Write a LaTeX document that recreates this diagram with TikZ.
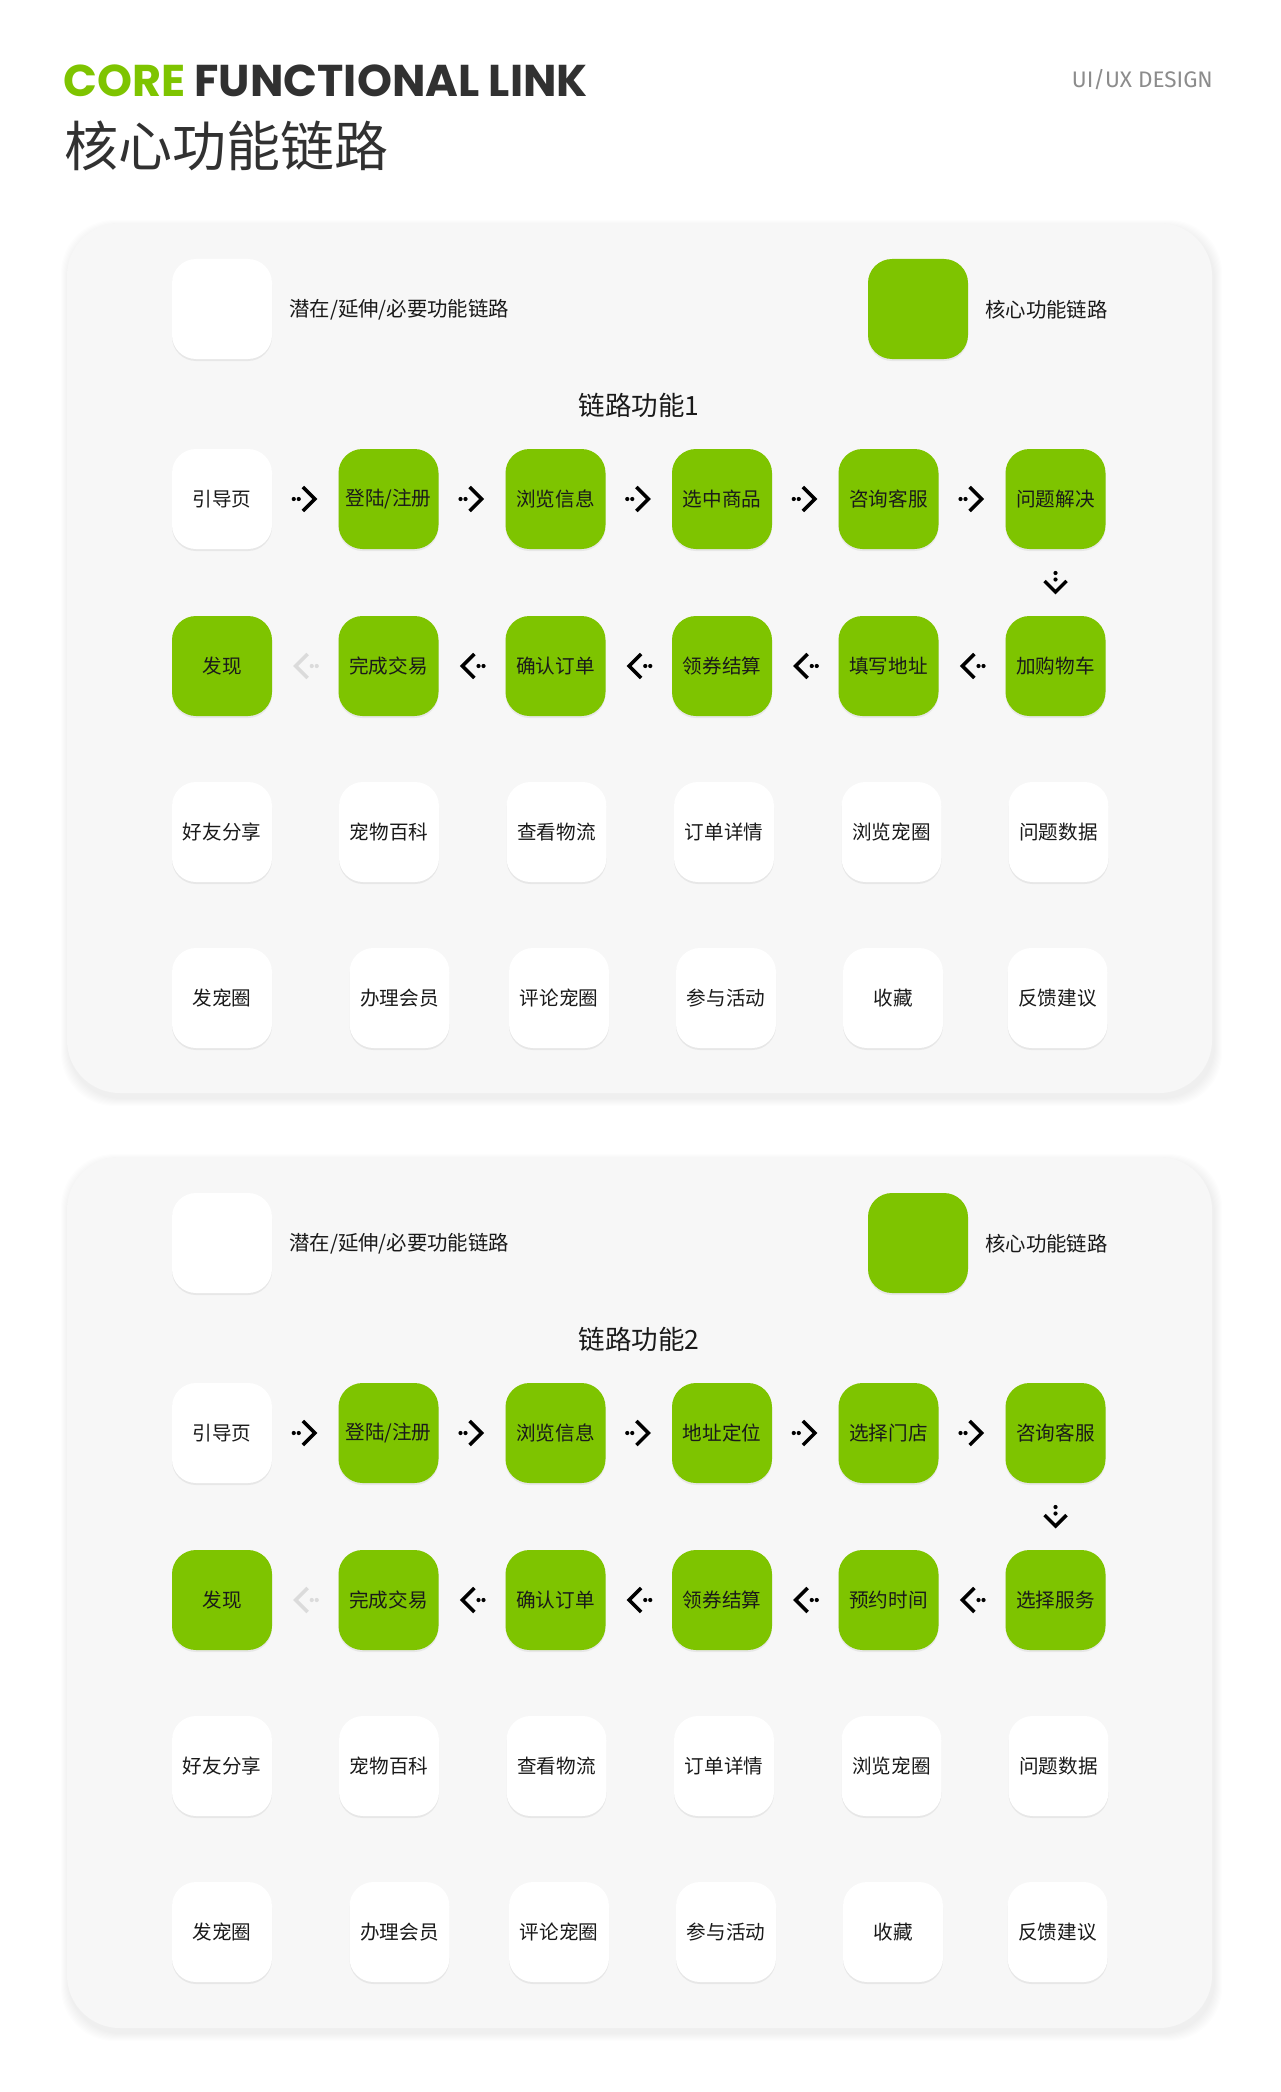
\documentclass[tikz,border=0pt]{standalone}
\usepackage{fontspec}
\setmainfont{Noto Sans CJK SC}
\newfontfamily\poppins{Poppins}
\newfontfamily\fira{Fira Sans}
\usepackage{tikz}
\usetikzlibrary{calc}
\usetikzlibrary{shadows}

\definecolor{linkgreen}{HTML}{7EC400}
\definecolor{panelgray}{HTML}{F7F7F7}
\definecolor{textdark}{HTML}{1A1A1A}

\tikzset{
	box/.style={rectangle, rounded corners=24pt, minimum width=100pt, minimum height=100pt,
		inner sep=0pt, fill=white, text=textdark, font=\fontsize{19.6}{22}\selectfont,
		drop shadow={shadow xshift=0pt, shadow yshift=-2pt, opacity=0.13}},
	corebox/.style={box, fill=linkgreen},
	legend/.style={anchor=west, inner sep=0pt, text=textdark, font=\fontsize{20.4}{24}\selectfont},
	chevron/.style={line width=3.5pt, line join=miter, line cap=butt},
	fadearrow/.style={color=black!14},
	rarr/.pic={
		\fill (-11.5,0) circle (2.1pt);
		\fill (-6.5,0) circle (2.1pt);
		\draw[chevron] (-2.3,-12) -- (9.7,0) -- (-2.3,12);
	},
	larr/.pic={
		\fill (11.5,0) circle (2.1pt);
		\fill (6.5,0) circle (2.1pt);
		\draw[chevron] (2.3,-12) -- (-9.7,0) -- (2.3,12);
	},
	darr/.pic={
		\fill (0,-9.5) circle (2.1pt);
		\fill (0,-3) circle (2.1pt);
		\draw[chevron] (-11,-1.5) -- (0,9.5) -- (11,-1.5);
	},
}

\begin{document}
\begin{tikzpicture}[x=1pt, y=-1pt]
		\useasboundingbox (0,0) rectangle (1280,2092);

		% heading
		\node[anchor=base west, inner sep=0pt, font=\poppins\bfseries\fontsize{44.5}{50}\selectfont] (core) at (63,97)
			{\textcolor{linkgreen}{CORE} \textcolor{textdark!90}{FUNCTIONAL LINK}};
		\node[anchor=west, inner sep=0pt, text=textdark!90, font=\fontsize{54}{60}\selectfont] (title) at (64,146) {核心功能链路};
		\node[anchor=base east, inner sep=0pt, text=black!45, font=\fira\fontsize{22.5}{24}\selectfont] (tag) at (1213,88) {UI/UX DESIGN};

		% soft panel shadows
		\foreach \s in {1,...,8} {
			\fill[black, opacity=0.008, rounded corners=53pt] (67-\s+2,223-\s+5) rectangle (1212+\s+2,1093+\s+5);
			\fill[black, opacity=0.008, rounded corners=53pt] (67-\s+2,1157-\s+5) rectangle (1212+\s+2,2028+\s+5);
		}
		\fill[panelgray, rounded corners=53pt] (67,223) rectangle (1212,1093);
		\fill[panelgray, rounded corners=53pt] (67,1157) rectangle (1212,2028);

		% panel 1
		\node[box] (L) at (222,309) {};
		\node[legend] (Ltext) at (289,310) {潜在/延伸/必要功能链路};
		\node[corebox] (LL) at (918,309) {};
		\node[legend] (LLtext) at (985,310) {核心功能链路};
		\node[inner sep=0pt, text=textdark, font=\fontsize{26.5}{30}\selectfont] (T) at (639,405) {链路功能1};

		\node[box] (A1) at (222,499) {引导页};
		\node[corebox] (A2) at (388.5,499) {登陆/注册};
		\node[corebox] (A3) at (555.5,499) {浏览信息};
		\node[corebox] (A4) at (722,499) {选中商品};
		\node[corebox] (A5) at (888.5,499) {咨询客服};
		\node[corebox] (A6) at (1055.5,499) {问题解决};

		\node[corebox] (B1) at (222,666) {发现};
		\node[corebox] (B2) at (388.5,666) {完成交易};
		\node[corebox] (B3) at (555.5,666) {确认订单};
		\node[corebox] (B4) at (722,666) {领券结算};
		\node[corebox] (B5) at (888.5,666) {填写地址};
		\node[corebox] (B6) at (1055.5,666) {加购物车};

		\node[box] (C1) at (222,832) {好友分享};
		\node[box] (C2) at (389,832) {宠物百科};
		\node[box] (C3) at (556.5,832) {查看物流};
		\node[box] (C4) at (724,832) {订单详情};
		\node[box] (C5) at (891.5,832) {浏览宠圈};
		\node[box] (C6) at (1058.5,832) {问题数据};

		\node[box] (D1) at (222,998) {发宠圈};
		\node[box] (D2) at (399.5,998) {办理会员};
		\node[box] (D3) at (559,998) {评论宠圈};
		\node[box] (D4) at (726,998) {参与活动};
		\node[box] (D5) at (893,998) {收藏};
		\node[box] (D6) at (1057.5,998) {反馈建议};

		\pic at ($(A1)!0.5!(A2)$) {rarr};
		\pic at ($(A2)!0.5!(A3)$) {rarr};
		\pic at ($(A3)!0.5!(A4)$) {rarr};
		\pic at ($(A4)!0.5!(A5)$) {rarr};
		\pic at ($(A5)!0.5!(A6)$) {rarr};
		\pic at ($(A6)!0.5!(B6)$) {darr};
		\pic at ($(B6)!0.5!(B5)$) {larr};
		\pic at ($(B5)!0.5!(B4)$) {larr};
		\pic at ($(B4)!0.5!(B3)$) {larr};
		\pic at ($(B3)!0.5!(B2)$) {larr};
		\pic[fadearrow] at ($(B2)!0.5!(B1)$) {larr};

		% panel 2
		\begin{scope}[yshift=-934pt]
		\node[box] (M) at (222,309) {};
		\node[legend] (Mtext) at (289,310) {潜在/延伸/必要功能链路};
		\node[corebox] (MM) at (918,309) {};
		\node[legend] (MMtext) at (985,310) {核心功能链路};
		\node[inner sep=0pt, text=textdark, font=\fontsize{26.5}{30}\selectfont] (TT) at (639,405) {链路功能2};

		\node[box] (AA1) at (222,499) {引导页};
		\node[corebox] (AA2) at (388.5,499) {登陆/注册};
		\node[corebox] (AA3) at (555.5,499) {浏览信息};
		\node[corebox] (AA4) at (722,499) {地址定位};
		\node[corebox] (AA5) at (888.5,499) {选择门店};
		\node[corebox] (AA6) at (1055.5,499) {咨询客服};

		\node[corebox] (BB1) at (222,666) {发现};
		\node[corebox] (BB2) at (388.5,666) {完成交易};
		\node[corebox] (BB3) at (555.5,666) {确认订单};
		\node[corebox] (BB4) at (722,666) {领券结算};
		\node[corebox] (BB5) at (888.5,666) {预约时间};
		\node[corebox] (BB6) at (1055.5,666) {选择服务};

		\node[box] (CC1) at (222,832) {好友分享};
		\node[box] (CC2) at (389,832) {宠物百科};
		\node[box] (CC3) at (556.5,832) {查看物流};
		\node[box] (CC4) at (724,832) {订单详情};
		\node[box] (CC5) at (891.5,832) {浏览宠圈};
		\node[box] (CC6) at (1058.5,832) {问题数据};

		\node[box] (DD1) at (222,998) {发宠圈};
		\node[box] (DD2) at (399.5,998) {办理会员};
		\node[box] (DD3) at (559,998) {评论宠圈};
		\node[box] (DD4) at (726,998) {参与活动};
		\node[box] (DD5) at (893,998) {收藏};
		\node[box] (DD6) at (1057.5,998) {反馈建议};

		\pic at ($(AA1)!0.5!(AA2)$) {rarr};
		\pic at ($(AA2)!0.5!(AA3)$) {rarr};
		\pic at ($(AA3)!0.5!(AA4)$) {rarr};
		\pic at ($(AA4)!0.5!(AA5)$) {rarr};
		\pic at ($(AA5)!0.5!(AA6)$) {rarr};
		\pic at ($(AA6)!0.5!(BB6)$) {darr};
		\pic at ($(BB6)!0.5!(BB5)$) {larr};
		\pic at ($(BB5)!0.5!(BB4)$) {larr};
		\pic at ($(BB4)!0.5!(BB3)$) {larr};
		\pic at ($(BB3)!0.5!(BB2)$) {larr};
		\pic[fadearrow] at ($(BB2)!0.5!(BB1)$) {larr};
		\end{scope}
\end{tikzpicture}
\end{document}
